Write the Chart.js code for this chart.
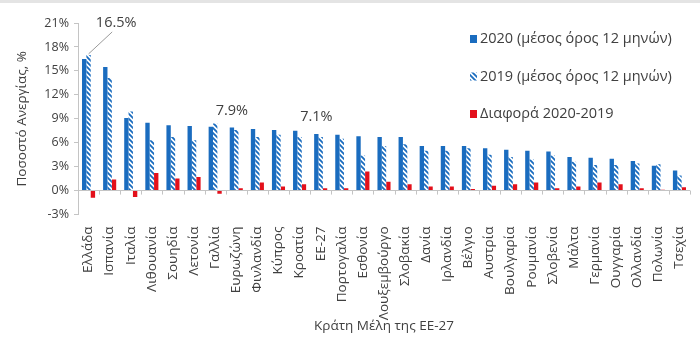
<!DOCTYPE html>
<html>
<head>
<meta charset="utf-8">
<script src="https://cdn.jsdelivr.net/npm/chart.js@4/dist/chart.umd.min.js"></script>
<style>
  html, body { margin: 0; padding: 0; background: #fff; }
  .topline { position: absolute; left: 0; top: 0; width: 700px; height: 3px; background: #e4e4e4; }
  .wrap { position: relative; width: 700px; height: 346px; }
</style>
</head>
<body>
<div class="wrap">
  <div class="topline"></div>
  <canvas id="chart" width="700" height="346"></canvas>
</div>
<script>
// κατηγορίες (κράτη μέλη)
const categories = ['Ελλάδα', 'Ισπανία', 'Ιταλία', 'Λιθουανία', 'Σουηδία', 'Λετονία', 'Γαλλία',
  'Ευρωζώνη', 'Φινλανδία', 'Κύπρος', 'Κροατία', 'ΕΕ-27', 'Πορτογαλία', 'Εσθονία',
  'Λουξεμβούργο', 'Σλοβακία', 'Δανία', 'Ιρλανδία', 'Βέλγιο', 'Αυστρία', 'Βουλγαρία',
  'Ρουμανία', 'Σλοβενία', 'Μάλτα', 'Γερμανία', 'Ουγγαρία', 'Ολλανδία', 'Πολωνία', 'Τσεχία'];

// ποσοστά ανεργίας (%)
const values2020 = [16.5, 15.5, 9.1, 8.5, 8.2, 8.1, 8.0, 7.9, 7.7, 7.6, 7.5, 7.1, 7.0, 6.8,
  6.7, 6.7, 5.6, 5.6, 5.6, 5.3, 5.1, 5.0, 4.9, 4.2, 4.1, 4.0, 3.7, 3.1, 2.5];
const values2019 = [17.0, 14.1, 9.9, 6.3, 6.7, 6.3, 8.4, 7.6, 6.7, 7.0, 6.7, 6.7, 6.5, 4.4,
  5.6, 5.8, 5.0, 5.0, 5.3, 4.5, 4.2, 3.9, 4.4, 3.6, 3.2, 3.2, 3.4, 3.3, 1.9];
const valuesDiff = [-0.9, 1.4, -0.8, 2.2, 1.5, 1.7, -0.4, 0.3, 1.0, 0.5, 0.8, 0.3, 0.3, 2.4,
  1.1, 0.8, 0.5, 0.5, 0.2, 0.6, 0.8, 1.0, 0.3, 0.5, 1.0, 0.8, 0.3, 0.1, 0.4];

const seriesLabels = ['2020 (μέσος όρος 12 μηνών)', '2019 (μέσος όρος 12 μηνών)', 'Διαφορά 2020-2019'];

// y άξονας: -3% έως 21% ανά 3
const yMin = -3, yMax = 21, yStep = 3;

// σημειώσεις πάνω από τις μπάρες του 2020
const callouts = [
  { index: 0, text: '16.5%', dx: 32, dy: -36, leader: true },
  { index: 7, text: '7.9%', dx: 0, dy: -17 },
  { index: 11, text: '7.1%', dx: 0, dy: -17 }
];

const BLUE = '#1a6cbf';
const RED = '#e3101b';
const TEXT = '#404040';
const FONT = "'Open Sans', 'Noto Sans', sans-serif";

// μοτίβο με διαγώνιες γραμμές για το 2019
function makeHatch() {
  const c = document.createElement('canvas');
  c.width = 5; c.height = 5;
  const g = c.getContext('2d');
  g.fillStyle = '#ffffff';
  g.fillRect(0, 0, 5, 5);
  g.strokeStyle = BLUE;
  g.lineWidth = 1.8;
  g.beginPath();
  g.moveTo(-1, -1); g.lineTo(6, 6);
  g.moveTo(-1, 4); g.lineTo(1, 6);
  g.moveTo(4, -1); g.lineTo(6, 1);
  g.stroke();
  return g.createPattern(c, 'repeat');
}

const ctx = document.getElementById('chart').getContext('2d');
const hatch = makeHatch();

// legend μέσα στην περιοχή του γραφήματος
const legendPlugin = {
  id: 'sideLegend',
  afterDraw(chart) {
    const c = chart.ctx;
    c.save();
    c.font = '14.5px ' + FONT;
    c.textBaseline = 'middle';
    chart.data.datasets.forEach((ds, i) => {
      const x = 470, y = 39 + i * 37.5;
      c.fillStyle = ds.backgroundColor;
      c.fillRect(x, y - 4, 7, 8);
      c.fillStyle = TEXT;
      c.fillText(ds.label, x + 10, y);
    });
    c.restore();
  }
};

// ετικέτες τιμών, γραμμή μηδέν με υποδιαιρέσεις
const extrasPlugin = {
  id: 'extras',
  afterDatasetsDraw(chart) {
    const c = chart.ctx;
    const xs = chart.scales.x, ys = chart.scales.y;
    const y0 = ys.getPixelForValue(0);
    c.save();
    c.strokeStyle = '#c4c4c4';
    c.lineWidth = 1;
    c.beginPath();
    for (let i = 0; i <= categories.length; i++) {
      const px = Math.round(xs.getPixelForValue(i - 0.5)) + 0.5;
      c.moveTo(px, y0);
      c.lineTo(px, y0 + 4);
    }
    c.stroke();

    const meta = chart.getDatasetMeta(0);
    c.font = '14.5px ' + FONT;
    c.fillStyle = TEXT;
    c.textAlign = 'center';
    c.textBaseline = 'middle';
    callouts.forEach(cl => {
      const bar = meta.data[cl.index];
      const tx = bar.x + cl.dx, ty = bar.y + cl.dy;
      c.fillText(cl.text, tx, ty);
      if (cl.leader) {
        const bar19 = chart.getDatasetMeta(1).data[cl.index];
        c.strokeStyle = '#9a9a9a';
        c.beginPath();
        c.moveTo(tx - 4, ty + 9);
        c.lineTo(bar19.x, bar19.y - 1);
        c.stroke();
      }
    });
    c.restore();
  }
};

new Chart(ctx, {
  type: 'bar',
  data: {
    labels: categories,
    datasets: [
      { label: seriesLabels[0], data: values2020, backgroundColor: BLUE },
      { label: seriesLabels[1], data: values2019, backgroundColor: hatch },
      { label: seriesLabels[2], data: valuesDiff, backgroundColor: RED }
    ]
  },
  options: {
    responsive: false,
    animation: false,
    layout: { padding: { top: 23, right: 10, left: 0, bottom: 0 } },
    datasets: { bar: { categoryPercentage: 0.62, barPercentage: 1.0 } },
    plugins: {
      legend: { display: false },
      tooltip: { enabled: false }
    },
    scales: {
      x: {
        grid: { display: false },
        border: { display: false },
        ticks: {
          autoSkip: false,
          maxRotation: 90,
          minRotation: 90,
          padding: 4,
          color: TEXT,
          font: { family: FONT, size: 13.5 }
        },
        title: {
          display: true,
          text: 'Κράτη Μέλη της ΕΕ-27',
          color: TEXT,
          font: { family: FONT, size: 13.5 },
          padding: { top: 0, bottom: 12 }
        },
        afterFit(scale) { scale.height = 131.5; }
      },
      y: {
        min: yMin,
        max: yMax,
        ticks: {
          stepSize: yStep,
          color: TEXT,
          padding: 5,
          font: { family: FONT, size: 12.5 },
          callback: v => v + '%'
        },
        grid: {
          color: c => c.tick && c.tick.value === 0 ? '#c4c4c4' : 'rgba(0,0,0,0)',
          tickColor: '#c4c4c4',
          tickLength: 4
        },
        border: { color: '#c4c4c4' },
        title: {
          display: true,
          text: 'Ποσοστό Ανεργίας, %',
          color: TEXT,
          font: { family: FONT, size: 13.5 },
          padding: { top: 14, bottom: 0 }
        },
        afterFit(scale) { scale.width = 78; }
      }
    }
  },
  plugins: [legendPlugin, extrasPlugin]
});
</script>
</body>
</html>
